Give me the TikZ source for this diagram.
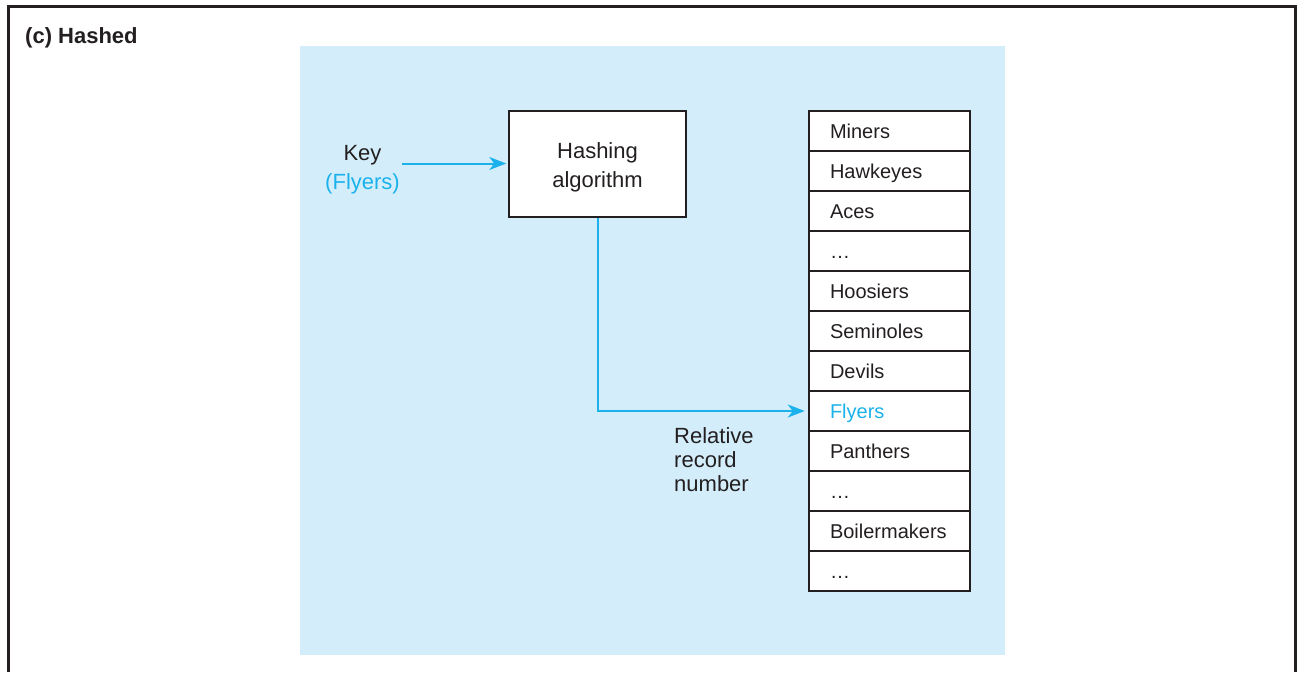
\documentclass[tikz,border=0pt]{standalone}
\usepackage{fontspec}
\setmainfont{Liberation Sans}
\usetikzlibrary{arrows.meta}
\definecolor{bgblue}{HTML}{D3EEFA}
\definecolor{keyblue}{HTML}{1BB2EC}
\definecolor{ink}{HTML}{231F20}
\begin{document}
\begin{tikzpicture}[x=1pt,y=1pt,
  rowbox/.style={draw=ink, line width=2.5pt, fill=white, minimum width=161pt,
    minimum height=40pt, inner xsep=21pt, inner ysep=0pt, text width=119pt, align=left,
    text height=14pt, text depth=0pt, font=\fontsize{20}{24}\selectfont, text=ink},
  bluearrow/.style={draw=keyblue, line width=2pt, -{Stealth[length=17pt,width=13pt,inset=5pt]}},
  lbl/.style={inner sep=0pt, text=ink, font=\fontsize{22}{29}\selectfont, align=center}]
\useasboundingbox (0,0) rectangle (1297,-672);
\draw[ink, line width=3pt] (8.5,-672) -- (8.5,-6.5) -- (1295.5,-6.5) -- (1295.5,-672);
\fill[bgblue] (300,-46) rectangle (1005,-655);
\node[anchor=base west, inner sep=0pt, text=ink, font=\fontsize{22}{26}\selectfont\bfseries] (title) at (25,-43) {(c) Hashed};
\node[lbl] (key) at (362.5,-170) {Key\\\textcolor{keyblue}{(Flyers)}};
\node[lbl, draw=ink, line width=1.5pt, fill=white, minimum width=177pt, minimum height=106pt, text height=52pt] (hash) at (597.5,-164) {Hashing\\algorithm};
\foreach \t [count=\i] in {Miners,Hawkeyes,Aces,…,Hoosiers,Seminoles,Devils,\textcolor{keyblue}{Flyers},Panthers,…,Boilermakers,…}
  \node[rowbox] (r\i) at (889.5,{-131-40*(\i-1)}) {\t};
\coordinate (keyout) at (402,-163.5);
\draw[bluearrow, shorten >=2pt] (keyout) -- (keyout -| hash.west);
\draw[bluearrow, shorten >=3pt] (hash.south) |- (r8.west);
\node[lbl, anchor=north west, align=left, font=\fontsize{22}{24}\selectfont] (rel) at (674,-427) {Relative\\record\\number};
\end{tikzpicture}
\end{document}
